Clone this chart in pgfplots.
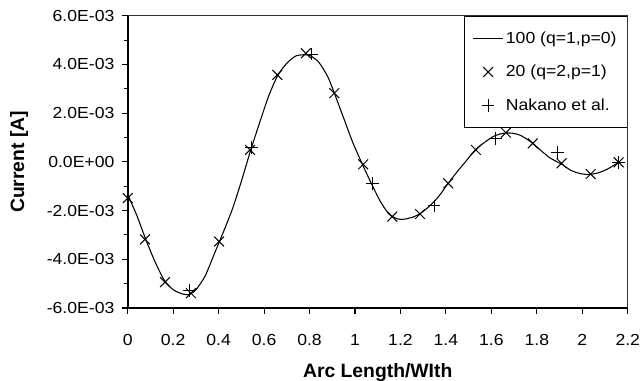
\documentclass[border=0pt]{standalone}
\usepackage{fontspec}
\setmainfont{Liberation Sans}[FakeStretch=1.1]
\newfontfamily\labelfont{Liberation Sans}
\usepackage{pgfplots}
\pgfplotsset{compat=1.18}
\begin{document}
\begin{tikzpicture}
\useasboundingbox (-95.8pt,-54.75pt) rectangle (385.7pt,231pt);
\begin{axis}[
  scale only axis,
  width=375pt, height=219.2pt,
  xmin=0, xmax=2.2,
  ymin=-0.006, ymax=0.006,
  axis lines*=left,
  axis line style={line width=1.4pt,-},
  tick align=outside,
  major tick length=4.5pt,
  minor tick length=2.6pt,
  every tick/.style={black, line width=0.8pt},
  xtick={0,0.2,0.4,0.6,0.8,1,1.2,1.4,1.6,1.8,2,2.2},
  xticklabels={0,0.2,0.4,0.6,0.8,1,1.2,1.4,1.6,1.8,2,2.2},
  ytick={-0.006,-0.004,-0.002,0,0.002,0.004,0.006},
  yticklabels={-6.0E-03,-4.0E-03,-2.0E-03,0.0E+00,2.0E-03,4.0E-03,6.0E-03},
  minor y tick num=1,
  scaled y ticks=false,
  scaled x ticks=false,
  tick label style={font=\fontsize{12}{14}\selectfont},
  xticklabel style={yshift=-12pt},
  yticklabel style={xshift=-2pt},
  xlabel={Arc Length/WIth},
  ylabel={Current [A]},
  every axis x label/.style={at={(axis description cs:0.5,0)}, yshift=-48.5pt, anchor=center, font=\labelfont\bfseries\fontsize{14.5}{16}\selectfont},
  every axis y label/.style={at={(axis description cs:0,0.5)}, xshift=-81.5pt, rotate=90, anchor=center, font=\labelfont\bfseries\fontsize{14.5}{16}\selectfont},
  legend style={at={(1,1)}, anchor=north east, draw=black, line width=0.8pt, fill=white,
    font=\fontsize{12}{14}\selectfont, row sep=11pt, inner xsep=6pt, inner ysep=9.5pt,
    legend cell align=left},
  legend image code/.code={\draw[mark repeat=2,mark phase=2,#1] plot coordinates {(0pt,0pt) (11pt,0pt) (22pt,0pt)};},
  extra description/.code={\draw[black!80, line width=0.8pt] (0,1) -- (1,1) -- (1,0);},
  clip=false,
]
\addplot[black, line width=0.8pt, smooth, tension=0.4, mark=none] coordinates {
(0.000,-1.35e-3) (0.04,-2.2e-3) (0.08,-3.2e-3) (0.12,-4.1e-3) (0.16,-4.85e-3)
(0.20,-5.25e-3) (0.24,-5.42e-3) (0.27,-5.45e-3) (0.30,-5.25e-3) (0.34,-4.7e-3)
(0.38,-3.8e-3) (0.42,-2.9e-3) (0.46,-1.95e-3) (0.50,-0.8e-3) (0.54,0.45e-3)
(0.58,1.6e-3) (0.62,2.7e-3) (0.66,3.55e-3) (0.70,4.05e-3) (0.74,4.35e-3)
(0.78,4.4e-3) (0.80,4.38e-3) (0.84,4.1e-3) (0.88,3.5e-3) (0.91,2.8e-3)
(0.95,1.8e-3) (0.99,0.8e-3) (1.03,-0.05e-3) (1.07,-0.85e-3) (1.11,-1.6e-3)
(1.15,-2.15e-3) (1.19,-2.35e-3) (1.22,-2.35e-3) (1.26,-2.25e-3) (1.29,-2.1e-3)
(1.33,-1.8e-3) (1.37,-1.4e-3) (1.41,-0.88e-3) (1.45,-0.4e-3) (1.49,0.05e-3)
(1.53,0.5e-3) (1.57,0.8e-3) (1.61,1.05e-3) (1.65,1.17e-3) (1.69,1.18e-3)
(1.73,1.08e-3) (1.78,0.78e-3) (1.82,0.45e-3) (1.86,0.15e-3) (1.91,-0.1e-3)
(1.95,-0.35e-3) (1.99,-0.48e-3) (2.03,-0.52e-3) (2.07,-0.45e-3) (2.11,-0.3e-3)
(2.16,-0.02e-3)
};
\addlegendentry{100 (q=1,p=0)}
\addplot[black, only marks, mark=x, mark size=5.2pt, line width=0.75pt] coordinates {
(0,-1.49e-3) (0.076,-3.18e-3) (0.164,-4.94e-3) (0.278,-5.39e-3) (0.402,-3.27e-3)
(0.538,0.49e-3) (0.658,3.57e-3) (0.784,4.46e-3) (0.909,2.82e-3) (1.036,-0.10e-3)
(1.164,-2.25e-3) (1.286,-2.14e-3) (1.41,-0.88e-3) (1.532,0.49e-3) (1.664,1.20e-3)
(1.782,0.76e-3) (1.909,-0.06e-3) (2.037,-0.50e-3) (2.16,-0.02e-3)
};
\addlegendentry{20 (q=2,p=1)}
\addplot[black, only marks, mark=+, mark size=4.7pt, line width=0.75pt] coordinates {
(0.27,-5.29e-3) (0.545,0.58e-3) (0.809,4.42e-3) (1.078,-0.88e-3) (1.348,-1.81e-3)
(1.62,0.97e-3) (1.892,0.38e-3) (2.16,-0.02e-3)
};
\addlegendentry{Nakano et al.}
\end{axis}
\end{tikzpicture}
\end{document}
